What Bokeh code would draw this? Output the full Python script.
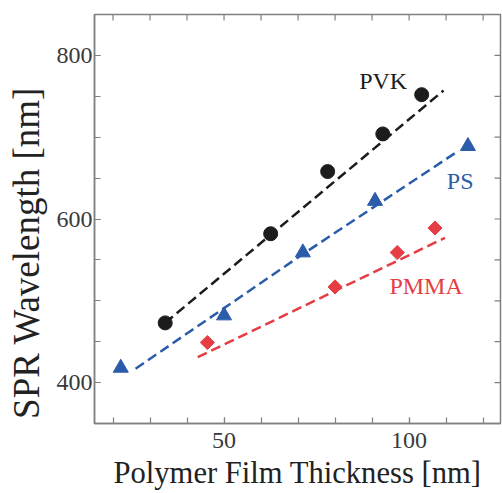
import math
from bokeh.plotting import figure
from bokeh.models import LinearAxis, FixedTicker, Range1d
from bokeh.core.properties import value
from bokeh.embed import file_html
from bokeh.resources import INLINE

# Data
pvk_x = [34.1, 62.6, 78.0, 92.9, 103.4]
pvk_y = [473, 582, 658, 704, 752]
ps_x = [22.1, 50.0, 71.3, 90.8, 115.9]
ps_y = [418, 482, 559, 622, 689]
pmma_x = [45.5, 80.0, 96.8, 107.0]
pmma_y = [449, 517, 559, 589]

# fitted (dashed) lines
pvk_fit_x = [34.1, 109.3]
pvk_fit_y = [473, 757]
ps_fit_x = [26.1, 71.3, 112.9]
ps_fit_y = [417, 557, 682]
pmma_fit_x = [42.9, 109.7]
pmma_fit_y = [431, 577]

labels = ["PVK", "PS", "PMMA"]
label_x = [93.0, 113.8, 104.6]
label_y = [769, 646, 518]

x_major = [50, 100]
x_minor = [20, 30, 40, 50, 60, 70, 80, 90, 100, 110, 120]
y_major = [400, 600, 800]
y_minor = [350, 400, 450, 500, 550, 600, 650, 700, 750, 800, 850]

X0, X1 = 15, 124.7
Y0, Y1 = 350, 850

BLACK = "#1c1c1c"
BLUE = "#2a5caa"
RED = "#e63c44"
AXIS = "#808080"
SERIF = "Liberation Serif"

p = figure(width=502, height=493, output_backend="svg", toolbar_location=None,
           x_range=Range1d(X0, X1), y_range=Range1d(Y0, Y1),
           x_axis_location=None, y_axis_location=None,
           min_border_left=94, min_border_right=2, min_border_top=14, min_border_bottom=70)
p.grid.visible = False
p.outline_line_color = AXIS
p.outline_line_width = 1.5
p.background_fill_color = "white"
p.border_fill_color = "white"


def style_axis(ax, ticks, minor):
    ax.ticker = FixedTicker(ticks=ticks, minor_ticks=minor)
    ax.axis_line_color = AXIS
    ax.axis_line_width = 1.5
    ax.major_tick_line_color = AXIS
    ax.minor_tick_line_color = AXIS
    ax.major_tick_line_width = 1.2
    ax.minor_tick_line_width = 1.2
    ax.major_tick_in = 6
    ax.major_tick_out = 0
    ax.minor_tick_in = 6
    ax.minor_tick_out = 0
    ax.major_label_text_font = SERIF
    ax.major_label_text_font_size = "24px"
    ax.major_label_text_color = "#3a3a3a"
    ax.axis_label_text_font = SERIF
    ax.axis_label_text_font_style = "normal"
    ax.axis_label_text_color = "#222222"


# trailing non-breaking spaces shift the centred title down, as in the reference
left = LinearAxis(axis_label="SPR Wavelength [nm]" + "\u00a0" * 7 + "\u200a")
style_axis(left, y_major, y_minor)
left.major_label_standoff = 2
left.axis_label_text_font_size = "37px"
left.axis_label_standoff = 7
p.add_layout(left, "left")

bottom = LinearAxis(axis_label="Polymer Film Thickness [nm]")
style_axis(bottom, x_major, x_minor)
bottom.major_label_standoff = 9
bottom.axis_label_text_font_size = "30.6px"
bottom.axis_label_standoff = 5
p.add_layout(bottom, "below")

# mirrored inward ticks on the top and right frame edges
p.scatter(x=[X1] * len(y_minor), y=y_minor, marker="dash", size=12,
          line_color=AXIS, line_width=1.2)
p.scatter(x=x_minor, y=[Y1] * len(x_minor), marker="dash", size=12, angle=math.pi / 2,
          line_color=AXIS, line_width=1.2)

# dashed fit lines
p.line(pvk_fit_x, pvk_fit_y, line_color=BLACK, line_width=2.5, line_dash="10 5")
p.line(ps_fit_x, ps_fit_y, line_color=BLUE, line_width=2.5, line_dash="10 5")
p.line(pmma_fit_x, pmma_fit_y, line_color=RED, line_width=2.5, line_dash="10 5")

# markers
p.scatter(pvk_x, pvk_y, marker="circle", size=14, fill_color=BLACK, line_color=BLACK)
p.scatter(ps_x, ps_y, marker="triangle", size=15, fill_color=BLUE, line_color=BLUE)
p.scatter(pmma_x, pmma_y, marker="square", size=10, angle=math.pi / 4,
          fill_color=RED, line_color=RED)

# series labels
p.text(x=label_x, y=label_y, text=labels, text_color=[BLACK, BLUE, RED],
       text_font=value(SERIF), text_font_size="24px",
       text_align="center", text_baseline="middle")

open("out.html", "w").write(file_html(p, INLINE))
